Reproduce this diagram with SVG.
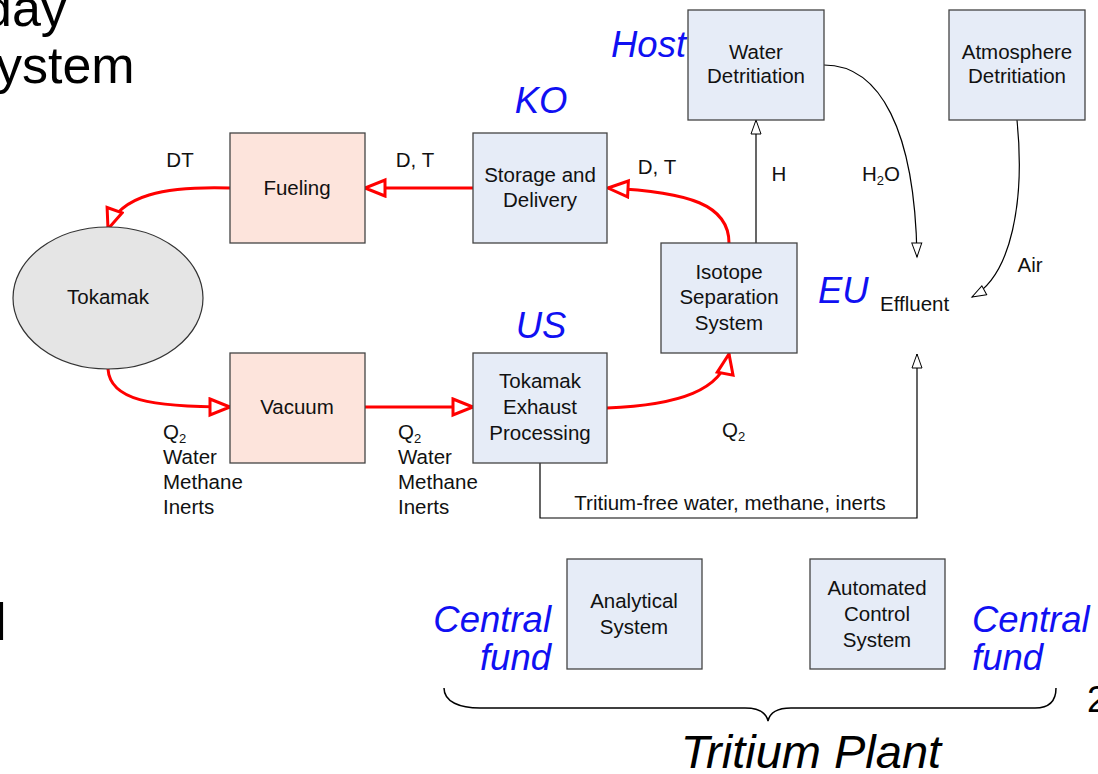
<svg xmlns="http://www.w3.org/2000/svg" width="1098" height="774" viewBox="0 0 1098 774">
<style>
text{font-family:"Liberation Sans",Arial,sans-serif;fill:#111}
.t{font-size:20.5px}
.m{text-anchor:middle}
.big{font-size:52px;fill:#000}
.blue{font-size:36.5px;font-style:italic;fill:#1010F2}
.box{stroke:#444;stroke-width:1.3}
.bl{fill:#E6ECF7}
.sa{fill:#FDE4DC}
.red{fill:none;stroke:#F00;stroke-width:3;marker-end:url(#ra)}
.blk{fill:none;stroke:#000;stroke-width:1.2;marker-end:url(#ba)}
</style>
<defs>
<marker id="ra" markerUnits="userSpaceOnUse" markerWidth="28" markerHeight="22" refX="23" refY="10" orient="auto">
<path d="M3,2 L23,10 L3,18 Z" fill="#fff" stroke="#F00" stroke-width="3" stroke-linejoin="miter"/>
</marker>
<marker id="ba" markerUnits="userSpaceOnUse" markerWidth="18" markerHeight="14" refX="15" refY="6" orient="auto">
<path d="M1,1 L15,6 L1,11 Z" fill="#fff" stroke="#000" stroke-width="1"/>
</marker>
</defs>
<rect width="1098" height="774" fill="#fff"/>

<text class="big" x="-17" y="26">day</text>
<text class="big" x="-4" y="83">ystem</text>
<text class="big" x="-5" y="640">l</text>
<text x="1087" y="712" style="font-size:36px;fill:#000">2</text>

<g id="connectors">
<path class="red" d="M230,188 C165,186 120,195 108,229"/>
<path class="red" d="M473,188 L365,188"/>
<path class="red" d="M729,243 C729,205 690,192 608,188"/>
<path class="red" d="M108,369 C110,400 150,407 230,407"/>
<path class="red" d="M364,407 L473,407"/>
<path class="red" d="M607,408 C680,405 722,390 729,354"/>
<path class="blk" d="M756,243 L756,120"/>
<path class="blk" d="M824,65 C880,65 915,130 917,257"/>
<path class="blk" d="M1017,120 C1025,200 1012,275 972,297"/>
<path class="blk" d="M540,463 L540,518 L917,518 L917,354"/>
<path d="M444,688 C444,702 460,708 480,708 L745,708 C758,708 766,712 768,721 C770,712 778,708 791,708 L1035,708 C1048,708 1056,702 1056,688" fill="none" stroke="#000" stroke-width="1.5"/>
</g>

<g id="labels">
<text class="t m" x="180" y="167">DT</text>
<text class="t m" x="415" y="167">D, T</text>
<text class="t m" x="657" y="174">D, T</text>
<text class="t m" x="779" y="181">H</text>
<text class="t" x="862" y="181">H<tspan font-size="13" dy="4">2</tspan><tspan dy="-4">O</tspan></text>
<text class="t m" x="1030" y="272">Air</text>
<text class="t" x="880" y="311">Effluent</text>
<text class="t" x="163" y="439">Q<tspan font-size="13" dy="4">2</tspan></text>
<text class="t" x="163" y="464">Water</text>
<text class="t" x="163" y="489">Methane</text>
<text class="t" x="163" y="514">Inerts</text>
<text class="t" x="398" y="439">Q<tspan font-size="13" dy="4">2</tspan></text>
<text class="t" x="398" y="464">Water</text>
<text class="t" x="398" y="489">Methane</text>
<text class="t" x="398" y="514">Inerts</text>
<text class="t" x="722" y="437">Q<tspan font-size="13" dy="4">2</tspan></text>
<text class="t m" x="730" y="510">Tritium-free water, methane, inerts</text>
<text class="blue" x="611" y="57">Host</text>
<text class="blue m" x="541" y="113">KO</text>
<text class="blue m" x="541" y="338">US</text>
<text class="blue" x="818" y="303">EU</text>
<text class="blue" x="551" y="632" text-anchor="end">Central</text>
<text class="blue" x="551" y="670" text-anchor="end">fund</text>
<text class="blue" x="972" y="632">Central</text>
<text class="blue" x="972" y="670">fund</text>
<text x="811" y="768" text-anchor="middle" style="font-size:47px;font-style:italic;fill:#000">Tritium Plant</text>
</g>

<g id="water-detritiation"><rect class="box bl" x="688" y="10" width="136" height="110"/><text class="t m" x="756" y="59">Water</text><text class="t m" x="756" y="83">Detritiation</text></g>
<g id="atmosphere-detritiation"><rect class="box bl" x="949" y="10" width="136" height="110"/><text class="t m" x="1017" y="59">Atmosphere</text><text class="t m" x="1017" y="83">Detritiation</text></g>
<g id="fueling"><rect class="box sa" x="230" y="133" width="135" height="110"/><text class="t m" x="297" y="195">Fueling</text></g>
<g id="storage"><rect class="box bl" x="473" y="133" width="134" height="110"/><text class="t m" x="540" y="182">Storage and</text><text class="t m" x="540" y="207">Delivery</text></g>
<g id="tokamak"><ellipse cx="108" cy="298" rx="95" ry="71" fill="#E5E5E5" stroke="#333" stroke-width="1.2"/><text class="t m" x="108" y="304">Tokamak</text></g>
<g id="isotope"><rect class="box bl" x="661" y="243" width="136" height="110"/><text class="t m" x="729" y="279">Isotope</text><text class="t m" x="729" y="304">Separation</text><text class="t m" x="729" y="330">System</text></g>
<g id="vacuum"><rect class="box sa" x="230" y="353" width="135" height="110"/><text class="t m" x="297" y="414">Vacuum</text></g>
<g id="exhaust"><rect class="box bl" x="473" y="353" width="134" height="110"/><text class="t m" x="540" y="388">Tokamak</text><text class="t m" x="540" y="414">Exhaust</text><text class="t m" x="540" y="440">Processing</text></g>
<g id="analytical"><rect class="box bl" x="567" y="559" width="135" height="110"/><text class="t m" x="634" y="608">Analytical</text><text class="t m" x="634" y="634">System</text></g>
<g id="control"><rect class="box bl" x="810" y="559" width="135" height="110"/><text class="t m" x="877" y="595">Automated</text><text class="t m" x="877" y="621">Control</text><text class="t m" x="877" y="647">System</text></g>
</svg>
